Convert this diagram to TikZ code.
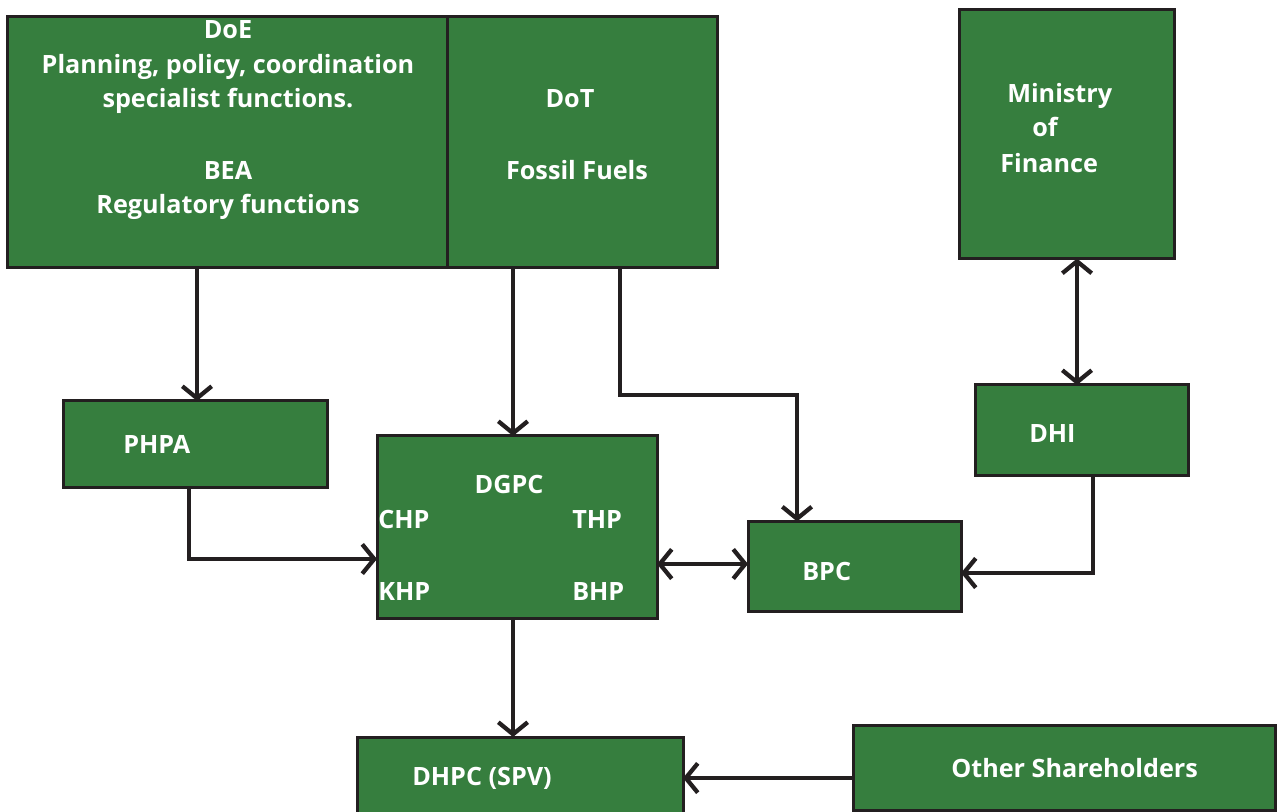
\documentclass[tikz,border=0pt]{standalone}
\usepackage{fontspec}
\setmainfont{Open Sans}
\usetikzlibrary{arrows.meta}
\definecolor{boxgreen}{RGB}{54,126,62}
\definecolor{ink}{RGB}{35,31,32}
\tikzset{
  box/.style 2 args={draw=ink, fill=boxgreen, line width=2.25pt, inner sep=0pt, outer sep=0pt,
    minimum width=#1*0.75pt, minimum height=#2*0.75pt},
  txt/.style={text=white, font=\bfseries\fontsize{18.9}{22}\selectfont, inner sep=0pt},
  arr/.style={draw=ink, line width=3.2pt, -{Straight Barb[length=9pt, width=22pt]}},
  darr/.style={draw=ink, line width=3.2pt, {Straight Barb[length=9pt, width=22pt]}-{Straight Barb[length=9pt, width=22pt]}},
}
\begin{document}
\begin{tikzpicture}[x=0.75pt, y=-0.75pt]
\useasboundingbox (0,0) rectangle (1277,812);
% boxes
\node[box={440}{251}] (doe) at (227,142.5) {};
\node[box={270}{251}] (dot) at (582,142.5) {};
\node[box={215}{249}] (mof) at (1066.5,134) {};
\node[box={264}{86}] (phpa) at (195,444) {};
\node[box={280}{182}] (dgpc) at (517,527) {};
\node[box={213}{90}] (dhi) at (1082,430) {};
\node[box={213}{90}] (bpc) at (854.5,566.5) {};
\node[box={326}{84}] (dhpc) at (520,779) {};
\node[box={422}{85}] (other) at (1064,767.5) {};
% texts
\node[txt, anchor=base] (t1) at (228,39) {DoE};
\node[txt, anchor=base] (t2) at (228,74) {Planning, policy, coordination};
\node[txt, anchor=base] (t3) at (228,108) {specialist functions.};
\node[txt, anchor=base] (t4) at (228,180) {BEA};
\node[txt, anchor=base] (t5) at (228,214) {Regulatory functions};
\node[txt, anchor=base] (t6) at (570,108) {DoT};
\node[txt, anchor=base] (t7) at (577,180) {Fossil Fuels};
\node[txt, anchor=base west] (t8) at (1007,103) {Ministry};
\node[txt, anchor=base west] (t9) at (1032,137) {of};
\node[txt, anchor=base west] (t10) at (1000,173) {Finance};
\node[txt, anchor=base west] (t11) at (123,454) {PHPA};
\node[txt, anchor=base] (t12) at (509,493) {DGPC};
\node[txt, anchor=base west] (t13) at (378,528) {CHP};
\node[txt, anchor=base west] (t14) at (572,528) {THP};
\node[txt, anchor=base west] (t15) at (378,600) {KHP};
\node[txt, anchor=base west] (t16) at (572,600) {BHP};
\node[txt, anchor=base west] (t17) at (1029,443) {DHI};
\node[txt, anchor=base west] (t18) at (802,580) {BPC};
\node[txt, anchor=base west] (t19) at (412,785) {DHPC (SPV)};
\node[txt, anchor=base west] (t20) at (951,777) {Other Shareholders};
% routing points
\coordinate (cA) at (197,0);
\coordinate (cB) at (513,0);
\coordinate (cC) at (620,395);
\coordinate (cD) at (797,395);
\coordinate (cE) at (1077,0);
\coordinate (cF) at (189,559);
\coordinate (cG) at (0,564);
\coordinate (cH) at (1093,573);
\coordinate (cI) at (0,778);
% connectors
\draw[arr] (doe.south -| cA) -- (phpa.north -| cA);
\draw[arr] (dot.south -| cB) -- (dgpc.north -| cB);
\draw[arr] (dot.south -| cC) -- (cC) -- (cD) -- (bpc.north -| cD);
\draw[darr] (mof.south -| cE) -- (dhi.north -| cE);
\draw[arr] (phpa.south -| cF) -- (cF) -- (dgpc.west |- cF);
\draw[darr] (dgpc.east |- cG) -- (bpc.west |- cG);
\draw[arr] (dhi.south -| cH) -- (cH) -- (bpc.east |- cH);
\draw[arr] (dgpc.south -| cB) -- (dhpc.north -| cB);
\draw[arr] (other.west |- cI) -- (dhpc.east |- cI);
\end{tikzpicture}
\end{document}
